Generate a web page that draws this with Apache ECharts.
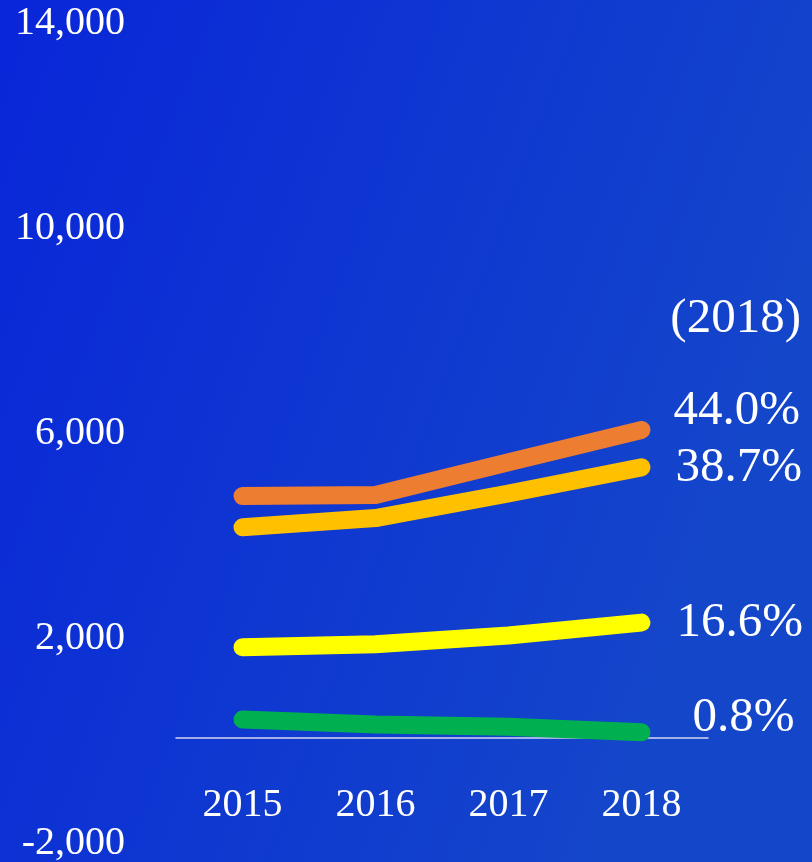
<!DOCTYPE html>
<html>
<head>
<meta charset="utf-8">
<script src="https://cdn.jsdelivr.net/npm/echarts@6/dist/echarts.min.js"></script>
<style>
  html, body { margin: 0; padding: 0; }
  #chart { width: 812px; height: 862px; }
</style>
</head>
<body>
<div id="chart"></div>
<script>
const years = ["2015", "2016", "2017", "2018"];
const orangeData = [4770, 4790, 5430, 6060];
const amberData = [4160, 4340, 4820, 5330];
const yellowData = [1820, 1880, 2050, 2300];
const greenData = [410, 310, 270, 160];
const shareLabels = ["44.0%", "38.7%", "16.6%", "0.8%"];
const shownTicks = [-2000, 2000, 6000, 10000, 14000];

const FONT = "Liberation Serif";

function lineSeries(name, data, color, label, offset) {
  return {
    name: name,
    type: "line",
    data: data,
    symbol: "none",
    smooth: false,
    lineStyle: { color: color, width: 18, cap: "round", join: "round" },
    endLabel: {
      show: true,
      formatter: label,
      color: "#ffffff",
      fontFamily: FONT,
      fontSize: 49,
      distance: 0,
      offset: offset
    },
    z: 3
  };
}

const chart = echarts.init(document.getElementById("chart"));
const option = {
  backgroundColor: new echarts.graphic.LinearGradient(0, 0, 1, 0.35, [
    { offset: 0, color: "#0926d9" },
    { offset: 1, color: "#1446ca" }
  ]),
  animation: false,
  title: {
    text: "(2018)",
    right: 6,
    top: 290,
    textStyle: { color: "#ffffff", fontFamily: FONT, fontSize: 49, fontWeight: "normal" }
  },
  grid: {
    left: 176,
    right: 104,
    top: 23,
    bottom: 19,
    containLabel: false,
    outerBoundsMode: "none"
  },
  xAxis: {
    type: "category",
    data: years,
    boundaryGap: true,
    position: "bottom",
    offset: -105,
    axisLine: { show: true, onZero: false, lineStyle: { color: "#d4d8ee", width: 1.5 } },
    axisTick: { show: false },
    axisLabel: {
      show: true,
      color: "#ffffff",
      fontFamily: FONT,
      fontSize: 40,
      margin: 47
    },
    splitLine: { show: false }
  },
  yAxis: {
    type: "value",
    min: -2000,
    max: 14000,
    interval: 2000,
    axisLine: { show: false },
    axisTick: { show: false },
    splitLine: { show: false },
    axisLabel: {
      color: "#ffffff",
      fontFamily: FONT,
      fontSize: 40,
      margin: 51,
      formatter: function (v) {
        return shownTicks.indexOf(v) >= 0 ? v.toLocaleString("en-US") : "";
      }
    }
  },
  series: [
    lineSeries("orange", orangeData, "#ED7D31", shareLabels[0], [32, -19]),
    lineSeries("amber", amberData, "#FFC000", shareLabels[1], [34, 1]),
    lineSeries("yellow", yellowData, "#FFFF00", shareLabels[2], [35, 0]),
    lineSeries("green", greenData, "#00B050", shareLabels[3], [51, -14])
  ]
};
chart.setOption(option);
</script>
</body>
</html>
